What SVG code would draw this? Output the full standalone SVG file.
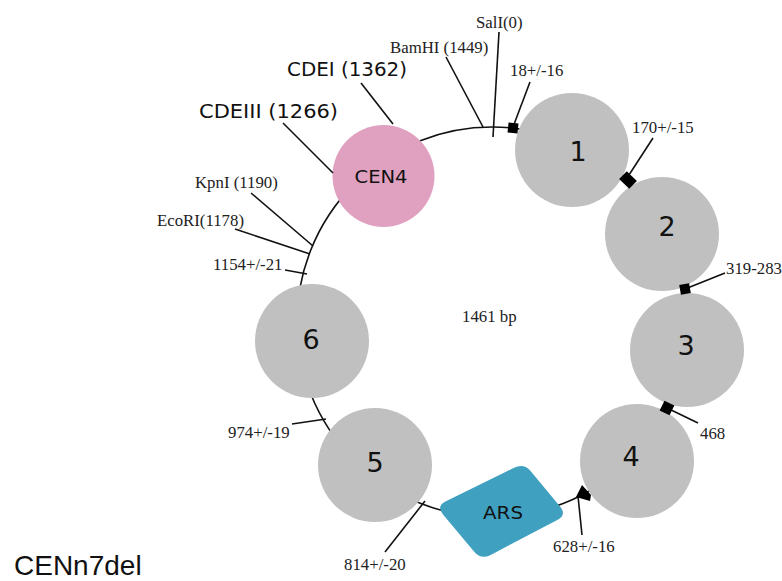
<svg xmlns="http://www.w3.org/2000/svg" width="782" height="581" viewBox="0 0 782 581">
<style>
.lbl{font-family:"Liberation Serif","Times New Roman",serif;font-size:16.8px;fill:#222}
.cm{font-family:"Comic Sans MS","DejaVu Sans",sans-serif;fill:#111}
.lead{stroke:#111;stroke-width:1.6;fill:none}
.mk{fill:#000}
.gray{fill:#c0c0c0}
</style>
<rect width="782" height="581" fill="#fff"/>
<g id="ring"><circle cx="492" cy="322" r="195" fill="none" stroke="#111" stroke-width="1.6"/></g>
<g id="node-cen4"><circle cx="383.5" cy="176" r="51" fill="#e0a0c0"/><text class="cm" x="381" y="183" font-size="18" text-anchor="middle" textLength="53" lengthAdjust="spacingAndGlyphs">CEN4</text></g>
<g id="node-1"><circle class="gray" cx="572" cy="150" r="57"/><text class="cm" x="578" y="161" font-size="27" text-anchor="middle">1</text></g>
<g id="node-2"><circle class="gray" cx="662" cy="234" r="57"/><text class="cm" x="667" y="236" font-size="27" text-anchor="middle">2</text></g>
<g id="node-3"><circle class="gray" cx="687" cy="350" r="57"/><text class="cm" x="686" y="355" font-size="27" text-anchor="middle">3</text></g>
<g id="node-4"><circle class="gray" cx="637" cy="461" r="57"/><text class="cm" x="631" y="466" font-size="27" text-anchor="middle">4</text></g>
<g id="node-5"><circle class="gray" cx="375" cy="465" r="57"/><text class="cm" x="375" y="472" font-size="27" text-anchor="middle">5</text></g>
<g id="node-6"><circle class="gray" cx="312" cy="341" r="57"/><text class="cm" x="311" y="349" font-size="27" text-anchor="middle">6</text></g>
<g id="node-ars"><path d="M445.9,501.2 L514.1,467.8 Q524,463 531,471.5 L560,506.5 Q567,515 557.3,520.1 L490.7,554.9 Q481,560 474,551.6 L443,514.4 Q436,506 445.9,501.2 Z" fill="#40a0c0"/><text class="cm" x="503" y="519" font-size="18" text-anchor="middle" textLength="40" lengthAdjust="spacingAndGlyphs">ARS</text></g>
<g id="connectors">
<line class="lead" x1="499" y1="32" x2="493" y2="137"/>
<line class="lead" x1="446" y1="57" x2="483" y2="127"/>
<line class="lead" x1="530" y1="82" x2="513" y2="127"/>
<line class="lead" x1="653" y1="138" x2="627" y2="178"/>
<line class="lead" x1="725" y1="273" x2="685" y2="289"/>
<line class="lead" x1="698" y1="423" x2="667" y2="408"/>
<line class="lead" x1="582" y1="535" x2="578" y2="496"/>
<line class="lead" x1="385" y1="552" x2="425" y2="501"/>
<line class="lead" x1="292" y1="424" x2="326" y2="419"/>
<line class="lead" x1="285" y1="270" x2="307" y2="274"/>
<line class="lead" x1="235" y1="229" x2="310" y2="254"/>
<line class="lead" x1="251" y1="193" x2="313" y2="246"/>
<line class="lead" x1="283" y1="123" x2="333" y2="173"/>
<line class="lead" x1="361" y1="83" x2="393" y2="124"/>
<rect class="mk" x="-5" y="-5" width="10" height="10" transform="translate(513,128) rotate(6)"/>
<rect class="mk" x="-7" y="-5.5" width="14" height="11" transform="translate(628,180) rotate(44)"/>
<rect class="mk" x="-5" y="-5" width="10" height="10" transform="translate(685,289) rotate(-10)"/>
<rect class="mk" x="-5.5" y="-5.5" width="11" height="11" transform="translate(667,408) rotate(26)"/>
<polygon class="mk" points="582,485 591,495 590,501 583,499 576,497"/>
</g>
<g id="labels">
<text class="lbl" x="476" y="28">SalI(0)</text>
<text class="lbl" x="390" y="53">BamHI (1449)</text>
<text class="lbl" x="510" y="76">18+/-16</text>
<text class="lbl" x="632" y="133">170+/-15</text>
<text class="lbl" x="726" y="274">319-283</text>
<text class="lbl" x="700" y="439">468</text>
<text class="lbl" x="553" y="552">628+/-16</text>
<text class="lbl" x="344" y="570">814+/-20</text>
<text class="lbl" x="228" y="438">974+/-19</text>
<text class="lbl" x="213" y="270">1154+/-21</text>
<text class="lbl" x="157" y="226">EcoRI(1178)</text>
<text class="lbl" x="195" y="188">KpnI (1190)</text>
<text class="lbl" x="462" y="322" font-size="20">1461 bp</text>
<text class="cm" x="287" y="76" font-size="20" textLength="120" lengthAdjust="spacingAndGlyphs">CDEI (1362)</text>
<text class="cm" x="199" y="118" font-size="20" textLength="139" lengthAdjust="spacingAndGlyphs">CDEIII (1266)</text>
<text x="14" y="575" font-family="Liberation Sans, Arial, sans-serif" font-size="28" fill="#111">CENn7del</text>
</g>
</svg>
